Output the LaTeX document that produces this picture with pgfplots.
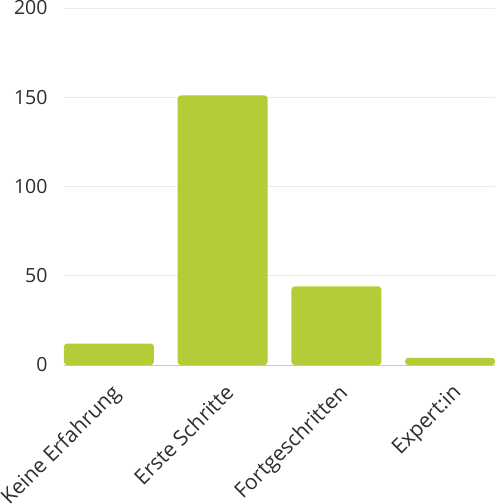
\documentclass[border=0pt]{standalone}
\usepackage{fontspec}
\setmainfont{Open Sans}
\usepackage{pgfplots}
\pgfplotsset{compat=1.18}

\definecolor{barGreen}{RGB}{178,205,56}
\definecolor{gridGray}{RGB}{235,235,235}
\definecolor{baseGray}{RGB}{200,200,200}
\definecolor{labelGray}{RGB}{45,45,45}

\begin{document}
\begin{tikzpicture}
    \begin{axis}[
        name=ax,
        scale only axis,
        width=431bp,
        height=357bp,
        xmin=-0.3947, xmax=3.3947,
        ymin=0, ymax=200,
        ytick={0,50,100,150,200},
        xtick={0,1,2,3},
        xticklabels={Keine Erfahrung, Erste Schritte, Fortgeschritten, Expert:in},
        axis line style={draw=none},
        major tick length=0pt,
        ymajorgrids,
        grid style={gridGray, line width=0.8bp},
        /pgf/number format/assume math mode=true,
        tick label style={text=labelGray},
        yticklabel style={font=\fontsize{19.5bp}{23bp}\selectfont, xshift=-13bp},
        % shifts first (page frame), then the turn
        xticklabel style={font=\fontsize{21bp}{25bp}\selectfont,
            xshift=1bp, yshift=-13bp, rotate=45, anchor=north east},
        clip=false,
    ]
    % baseline
    \addplot[baseGray, line width=1bp] coordinates {(-0.3947,0) (3.3947,0)};
    % bars
    \addplot[ybar, bar width=0.7895, fill=barGreen, draw=none, rounded corners=3bp]
        coordinates {(0,12) (1,151) (2,44) (3,4)};
    \end{axis}
    \pgfresetboundingbox
    \path[use as bounding box] ([xshift=-64bp,yshift=-139bp]ax.south west) rectangle ([yshift=8bp]ax.north east);
\end{tikzpicture}
\end{document}
